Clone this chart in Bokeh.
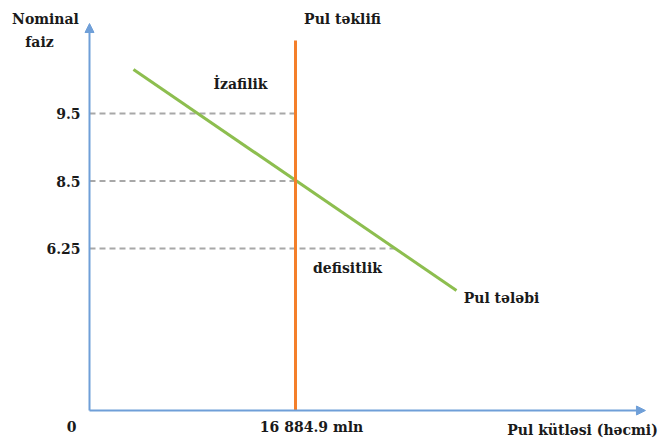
from bokeh.plotting import figure
from bokeh.models import Arrow, NormalHead, Range1d
from bokeh.core.properties import value
from bokeh.embed import file_html
from bokeh.resources import INLINE

# ---- data (schematic money-market diagram) ----
rate_labels = ["9.5", "8.5", "6.25"]     # nominal interest rate tick labels
rate_levels = [3, 2, 1]                  # schematic rank on the vertical axis
guide_end_x = [16884.9, 16884.9, 25330]  # where dashed guide lines end (mln)
supply_mln = 16884.9
supply_label = "16 884.9 mln"
supply_top = 4.08
demand_x = [3606, 30080]                 # money demand line (mln)
demand_y = [3.652, 0.378]                # money demand line (rate level)
axis_origin_y = -1.4
axis_top_y = 4.333
axis_right_x = 45570

BLUE = "#6F9FD8"
ORANGE = "#F47F2A"
GREEN = "#8DBE4F"
GRAY = "#A8A8A8"
TXT = "#1A1A1A"
FONT = "DejaVu Serif"

W, H = 658, 439
OFF = 0                         # page offset of the figure
k = supply_mln / 206.0          # data units per pixel (x)
ppu = 67.5                      # pixels per rate level (y)


def X(px):
    return (px - 89) * k


def Y(py):
    return 1 + (248 - py) / ppu


p = figure(width=W, height=H, output_backend="svg", toolbar_location=None,
           x_range=Range1d(X(OFF), X(OFF + W)), y_range=Range1d(Y(OFF + H), Y(OFF)),
           min_border=0)
p.axis.visible = False
p.grid.visible = False
p.outline_line_color = None
p.background_fill_color = "white"
p.border_fill_color = "white"

# dashed guides
for lvl, xe in zip(rate_levels, guide_end_x):
    p.line([0, xe], [lvl, lvl], line_color=GRAY, line_width=2, line_dash="6 4")

# axes with arrows
p.add_layout(Arrow(x_start=0, y_start=axis_origin_y, x_end=0, y_end=axis_top_y,
                   line_color=BLUE, line_width=2,
                   end=NormalHead(size=9, fill_color=BLUE, line_color=BLUE)))
p.add_layout(Arrow(x_start=0, y_start=axis_origin_y, x_end=axis_right_x, y_end=axis_origin_y,
                   line_color=BLUE, line_width=2,
                   end=NormalHead(size=9, fill_color=BLUE, line_color=BLUE)))

# demand and supply
p.line(demand_x, demand_y, line_color=GREEN, line_width=3)
p.line([supply_mln, supply_mln], [axis_origin_y, supply_top], line_color=ORANGE, line_width=3)

common = dict(text_font=value(FONT), text_font_style="bold", text_color=TXT,
              text_font_size="14px", text_baseline="middle")

# y tick labels
p.text(x=[X(80)] * 3, y=rate_levels, text=rate_labels, text_align="right", **common)
# x labels
p.text(x=[X(71)], y=[Y(426)], text=["0"], text_align="center", **common)
p.text(x=[X(311)], y=[Y(426)], text=[supply_label], text_align="center", **common)
p.text(x=[X(582)], y=[Y(429)], text=["Pul kütləsi (həcmi)"], text_align="center", **common)
p.text(x=[X(45)], y=[Y(18)], text=["Nominal"], text_align="center", **common)
p.text(x=[X(39)], y=[Y(41)], text=["faiz"], text_align="center", **common)
p.text(x=[X(342)], y=[Y(18)], text=["Pul təklifi"], text_align="center", **common)
p.text(x=[X(240)], y=[Y(83)], text=["İzafilik"], text_align="center", **common)
p.text(x=[X(347)], y=[Y(267)], text=["defisitlik"], text_align="center", **common)
p.text(x=[X(501)], y=[Y(297)], text=["Pul tələbi"], text_align="center", **common)

open("out.html", "w").write(file_html(p, INLINE))
